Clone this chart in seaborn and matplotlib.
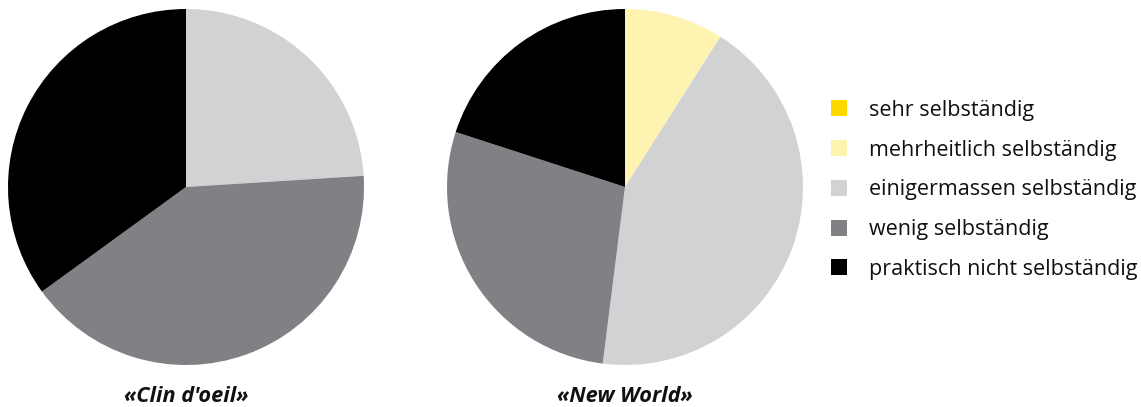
import matplotlib
matplotlib.use("Agg")
import matplotlib.pyplot as plt
from matplotlib.lines import Line2D
import seaborn as sns

# Categories and shares (percent) per product
categories = [
    "sehr selbständig",
    "mehrheitlich selbständig",
    "einigermassen selbständig",
    "wenig selbständig",
    "praktisch nicht selbständig",
]
clin_doeil = [0, 0, 24, 41, 35]
new_world = [0, 9, 43, 28, 20]
titles = ["«Clin d'oeil»", "«New World»"]

colors = ["#FFD800", "#FFF3B2", "#D1D2D4", "#808184", "#000000"]

sns.set_theme(style="white")
plt.rcParams["font.family"] = ["Open Sans", "DejaVu Sans"]
plt.rcParams["text.color"] = "#111111"

W, H = 1141, 407
fig = plt.figure(figsize=(W / 100, H / 100), dpi=100)


def pie_axes(cx, cy, r):
    return fig.add_axes([(cx - r) / W, (H - cy - r) / H, 2 * r / W, 2 * r / H])


def draw_pie(ax, values, title):
    vals = [v for v in values if v > 0]
    cols = [c for v, c in zip(values, colors) if v > 0]
    ax.pie(vals, colors=cols, startangle=90, counterclock=False,
           wedgeprops=dict(linewidth=0))
    ax.set_xlim(-1, 1)
    ax.set_ylim(-1, 1)
    ax.set_aspect("equal")
    ax.axis("off")
    ax.text(0, -1.175, title, ha="center", va="center", fontsize=15.7,
            fontweight="bold", fontstyle="italic", transform=ax.transData,
            clip_on=False)


ax1 = pie_axes(186, 187, 178)
draw_pie(ax1, clin_doeil, titles[0])
ax2 = pie_axes(625, 187, 178)
draw_pie(ax2, new_world, titles[1])

handles = [Line2D([], [], linestyle="none", marker="s", markersize=11,
                  markerfacecolor=c, markeredgewidth=0) for c in colors]
fig.legend(handles, categories, loc="upper left",
           bbox_to_anchor=(828 / W, 1 - 100 / H), frameon=False,
           fontsize=15.5, labelspacing=0.87, handletextpad=0.92,
           handlelength=1.0, borderaxespad=0, borderpad=0)

fig.savefig("out.png", dpi=100, facecolor="white")
